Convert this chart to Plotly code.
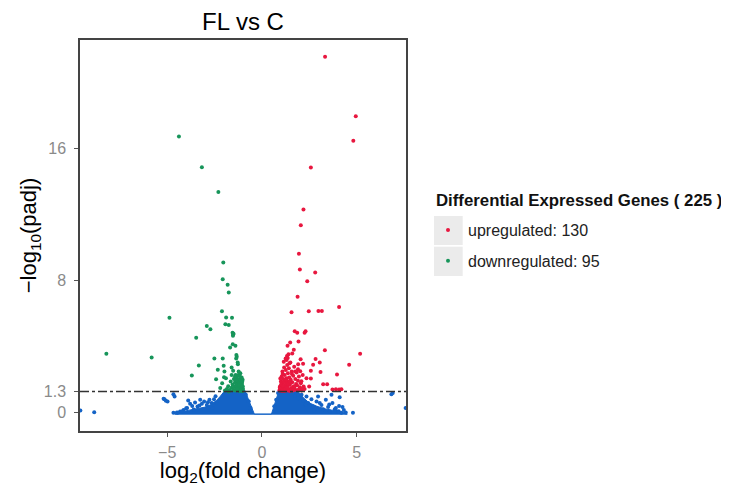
import plotly.graph_objects as go

# ---------------- data ----------------
up_x = [3.33, 4.95, 4.82, 2.58, 2.19, 2.05, 1.95, 2.0, 2.81, 2.39, 1.88, 4.07, 1.56, 2.47, 2.98, 3.16,
        1.73, 1.86, 2.25, 2.30, 1.49, 1.93, 1.35, 1.68, 3.32, 5.18, 1.32, 1.36, 1.30, 2.04, 2.83, 3.05,
        2.70, 4.60, 1.91, 2.17, 1.75, 2.02, 2.58, 3.09, 3.96, 2.35, 2.58, 3.23, 3.44, 2.49, 3.72, 3.90,
        4.07, 4.19,
        0.92, 0.95, 0.98, 1.0, 1.02, 1.04, 1.05, 1.07, 1.08, 1.1, 1.12, 1.13, 1.15, 1.17, 1.18, 1.2,
        1.21, 1.23, 1.25, 1.26, 1.28, 1.3, 1.31, 1.33, 1.35, 1.37, 1.38, 1.4, 1.42, 1.44, 1.46, 1.48,
        1.5, 1.52, 1.55, 1.57, 1.6, 1.62, 1.65, 1.68, 1.7, 1.73, 1.76, 1.8, 1.83, 1.86, 1.9, 1.95,
        2.0, 2.05, 2.1, 2.15, 2.2, 2.25, 1.15, 1.25, 1.4, 1.6, 1.45, 1.9,
        0.94, 1.01, 1.06, 1.11, 1.16, 1.22, 1.27, 1.34, 1.39, 1.47, 1.53, 1.58, 1.66, 1.72, 1.85, 1.97,
        2.08, 2.12, 0.97, 1.09]
up_y = [21.58, 17.98, 16.5, 14.87, 12.32, 11.37, 9.64, 8.69, 8.51, 7.98, 7.03, 6.42, 6.10, 6.16, 6.18, 6.18,
        4.95, 4.85, 4.85, 4.95, 4.26, 4.32, 4.06, 3.82, 3.80, 3.58, 3.45, 3.33, 3.20, 3.25, 3.27, 3.05,
        2.91, 2.91, 2.94, 2.97, 2.50, 2.52, 2.55, 2.48, 2.32, 2.10, 2.08, 1.73, 1.73, 1.60, 1.42, 1.43,
        1.42, 1.43,
        1.35, 1.6, 1.45, 1.9, 1.35, 2.2, 1.7, 1.5, 2.5, 1.38, 1.85, 2.05, 1.55, 2.75, 1.32, 2.3,
        1.68, 1.95, 1.42, 2.6, 1.78, 2.1, 1.35, 2.9, 1.6, 2.4, 1.9, 1.45, 2.7, 2.15, 1.33, 1.7,
        3.05, 2.0, 1.5, 2.5, 1.85, 1.35, 2.25, 1.62, 2.8, 1.4, 2.05, 1.75, 2.45, 1.38, 1.95, 2.2,
        1.55, 1.8, 1.35, 2.3, 1.6, 1.45, 3.1, 3.3, 3.55, 3.6, 3.0, 2.65,
        1.52, 1.72, 1.33, 1.62, 1.88, 1.45, 2.02, 1.5, 1.75, 1.9, 1.37, 2.35, 1.48, 1.58, 1.68, 1.4,
        1.92, 1.48, 2.08, 2.35]

down_x = [-4.38, -3.17, -2.30, -2.04, -2.07, -1.81, -1.75, -2.11, -1.89, -1.58, -4.88, -1.93, -1.75,
          -2.91, -2.72, -1.55, -1.52, -1.50, -1.53, -3.47, -1.68, -1.54, -1.40, -8.21, -5.82, -1.35,
          -1.33, -1.36, -2.51, -2.07, -1.28, -1.27, -3.33, -2.02, -1.60, -2.33, -1.98, -1.23, -3.70,
          -2.00, -2.42, -1.39, -1.42,
          -1.85, -1.78, -1.7, -1.65, -1.6, -1.55, -1.5, -1.48, -1.45, -1.42, -1.4, -1.38, -1.35, -1.33,
          -1.3, -1.28, -1.27, -1.25, -1.24, -1.22, -1.2, -1.19, -1.17, -1.15, -1.14, -1.12, -1.1, -1.09,
          -1.07, -1.06, -1.05, -1.03, -1.02, -1.01, -1.0, -2.2, -2.1, -1.95, -1.9, -1.75, -1.6, -1.52,
          -1.13, -1.18, -1.08, -1.26, -1.04, -1.32, -1.16, -1.11, -1.21, -1.36]
down_y = [16.75, 14.89, 13.38, 9.11, 8.10, 7.76, 7.29, 6.16, 5.78, 5.76, 5.76, 5.37, 5.33,
          5.27, 5.07, 4.85, 4.75, 4.80, 4.68, 4.55, 3.96, 4.16, 4.06, 3.58, 3.35, 3.50,
          3.40, 3.30, 3.29, 3.29, 3.05, 2.95, 2.87, 2.85, 2.75, 2.61, 2.50, 2.50, 2.26,
          2.16, 2.04, 2.30, 2.20,
          1.45, 1.62, 1.38, 1.9, 1.52, 1.72, 1.4, 2.05, 1.58, 1.85, 1.35, 1.65, 2.15, 1.48,
          1.78, 1.95, 1.4, 2.3, 1.6, 1.85, 1.33, 2.05, 1.5, 1.7, 2.4, 1.38, 1.9, 1.55,
          2.15, 1.42, 1.75, 1.32, 2.0, 1.6, 1.45, 1.5, 1.8, 1.35, 2.1, 1.3, 2.3, 2.55,
          1.55, 1.8, 1.65, 1.52, 1.88, 1.42, 2.2, 1.35, 1.7, 1.98]

# solid core of the non-significant genes (outline of the dense cloud)
core_x = [-4.6, -4.3, -3.9, -3.4, -3.0, -2.7, -2.4, -2.2, -2.05, -1.95, -0.9, -0.4, 0.5, 0.9,
          1.85, 2.0, 2.2, 2.5, 2.9, 3.3, 3.8, 4.3, 4.5, -4.6]
core_y = [-0.08, 0.05, 0.15, 0.25, 0.35, 0.5, 0.75, 1.0, 1.22, 1.36, 1.36, -0.08, -0.08, 1.36,
          1.36, 1.15, 0.9, 0.6, 0.4, 0.25, 0.12, 0.02, -0.08, -0.08]

# scattered non-significant genes
ns_x = [-9.58, -8.85, -5.19, -5.07, -5.14, -4.98, -4.67, -4.61, -4.67, -4.49, -4.32, -4.14, -4.0,
        -3.89, -3.79, -3.68, -3.53, -3.40, -3.26, -3.17, -3.05, -2.91, -2.77, -2.65, -2.53, -2.39,
        1.74, 1.91, 2.09, 2.18, 2.35, 2.44, 2.61, 2.70, 2.88, 2.96, 3.14, 3.23, 3.37, 3.49, 3.58,
        3.72, 3.84, 3.96, 4.07, 4.19, 4.32, 4.42, 4.80, 3.67, 4.10, 6.83, 6.90, 7.58,
        -4.45, -4.2, -3.95, -3.6, -3.3, -2.85, -2.6, -2.45, -0.85, -0.7, -0.6, 0.65, 0.75, 0.85,
        2.3, 2.75, 3.05, 3.55, 3.9, 4.25, 4.05]
ns_y = [0.14, 0.04, 0.85, 0.73, 0.83, 0.69, 1.13, 0.99, 0.0, 0.02, 0.08, 0.18, 0.28,
        0.75, 0.55, 0.42, 0.62, 0.38, 0.79, 0.55, 0.69, 0.47, 0.79, 0.59, 0.83, 0.62,
        1.03, 0.89, 1.09, 0.75, 0.99, 0.59, 0.83, 0.38, 0.69, 0.99, 0.48, 0.22, 0.79, 0.35, 0.08,
        0.59, 0.22, 0.08, 0.42, 0.0, 0.18, 0.02, 0.0, 1.09, 0.95, 1.13, 1.2, 0.3,
        0.0, 0.1, 0.3, 0.2, 0.45, 0.65, 0.3, 1.0, 1.1, 0.7, 0.3, 0.4, 0.8, 1.2,
        0.5, 0.15, 0.6, 0.5, 0.3, 0.35, 0.1]

threshold = 1.3
x_ticks = [-5, 0, 5]
y_ticks = [0, 1.3, 8, 16]
y_tick_text = ["0", "1.3", "8", "16"]
legend_title = "Differential Expressed Genes ( 225 )"

RED = "#E8173F"
GREEN = "#17955A"
BLUE = "#1463C6"
FONT = "Liberation Sans, Arial, sans-serif"

# the page body adds an 8px margin; the figure is sized to fit the window exactly
W, H = 721, 478
OFF = 8

fig = go.Figure()
fig.add_trace(go.Scatter(x=core_x, y=core_y, mode="lines", fill="toself", fillcolor=BLUE,
                         line=dict(color=BLUE, width=1), showlegend=False, hoverinfo="skip"))
fig.add_trace(go.Scatter(x=ns_x, y=ns_y, mode="markers", marker=dict(color=BLUE, size=4),
                         showlegend=False))
fig.add_trace(go.Scatter(x=up_x, y=up_y, mode="markers", name="upregulated: 130",
                         marker=dict(color=RED, size=4), legendgroup="up"))
fig.add_trace(go.Scatter(x=down_x, y=down_y, mode="markers", name="downregulated: 95",
                         marker=dict(color=GREEN, size=4), legendgroup="down"))

fig.add_hline(y=threshold, line=dict(color="#333333", width=1.5, dash="dashdot"), layer="above")

# legend key backgrounds
for y0, y1 in [(0.4757, 0.5499), (0.3964, 0.4714)]:
    fig.add_shape(type="rect", xref="paper", yref="paper", x0=1.0859, x1=1.1739, y0=y0, y1=y1,
                  fillcolor="#EBEBEB", line=dict(width=0), layer="below")

fig.add_annotation(text="<b>" + legend_title + "</b>", xref="paper", yref="paper",
                   x=(434 - 80) / 326, y=(431 - 200) / 391, xanchor="left", yanchor="middle",
                   showarrow=False, font=dict(size=16.8, color="#111111"))

fig.update_layout(
    width=W, height=H,
    margin=dict(l=80 - OFF, r=323, t=40 - OFF, b=55, autoexpand=False),
    paper_bgcolor="white", plot_bgcolor="white",
    font=dict(family=FONT, color="black"),
    title=dict(text="FL vs C", x=0.5, xref="paper", xanchor="center",
               y=1 - (22 - OFF) / H, yref="container", yanchor="middle",
               font=dict(size=24, color="black")),
    xaxis=dict(range=[-9.6, 7.6], tickvals=x_ticks, ticks="outside", ticklen=4, tickcolor="#555555",
               showline=True, linecolor="#444444", linewidth=1.5, mirror=True, showgrid=False,
               zeroline=False, tickfont=dict(size=16, color="#8A8A8A"), automargin=False,
               ticklabelstandoff=2,
               title=dict(text="log<sub>2</sub>(fold change)", font=dict(size=22), standoff=0)),
    yaxis=dict(range=[-1.1, 22.6], tickvals=y_ticks, ticktext=y_tick_text, ticks="outside",
               ticklen=4, tickcolor="#555555", showline=True, linecolor="#444444", linewidth=1.5,
               mirror=True, showgrid=False, zeroline=False, tickfont=dict(size=16, color="#8A8A8A"),
               automargin=False, ticklabelstandoff=5,
               title=dict(text="−log<sub>10</sub>(padj)", font=dict(size=22), standoff=1)),
    legend=dict(x=(428 - OFF) / W, xref="container", y=1 - (213 - OFF) / H, yref="container",
                xanchor="left", yanchor="top", bgcolor="rgba(0,0,0,0)",
                font=dict(size=16, color="#222222"), tracegroupgap=7, itemsizing="trace"),
)

fig.write_html("out.html")
